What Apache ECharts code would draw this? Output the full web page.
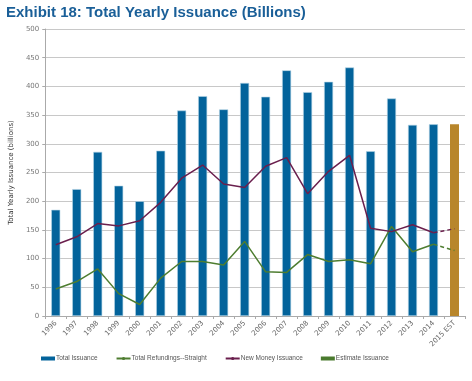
<!DOCTYPE html>
<html><head><meta charset="utf-8">
<script src="https://cdn.jsdelivr.net/npm/echarts@6/dist/echarts.min.js"></script>
<style>html,body{margin:0;padding:0;background:#fff}#c{width:472px;height:381px}</style>
</head><body><div id="c"></div>
<script>
const categories = ['1996','1997','1998','1999','2000','2001','2002','2003','2004','2005','2006','2007','2008','2009','2010','2011','2012','2013','2014','2015 EST'];
const totalIssuance = [185,221,286,227,200,288,358,383,360,406,382,428,390,408,433,287,379,333,334,null];
const estimateIssuance = [null,null,null,null,null,null,null,null,null,null,null,null,null,null,null,null,null,null,null,334];
const refundings = [47,60,82,39,20,66,95,95,89,130,77,76,107,95,98,91,156,112,125,null];
const refundingsEst = [null,null,null,null,null,null,null,null,null,null,null,null,null,null,null,null,null,null,125,114];
const newMoney = [124,138,161,157,166,198,240,263,230,224,261,276,213,252,280,153,147,159,145,null];
const newMoneyEst = [null,null,null,null,null,null,null,null,null,null,null,null,null,null,null,null,null,null,145,152];
const yTicks = {min:0, max:500, interval:50};

const BLUE='#03639b', GOLD='#b8862b', GREEN='#4e7d30', PURPLE='#6a1f4d';
const chart = echarts.init(document.getElementById('c'));
chart.setOption({
  animation:false,
  title:{text:'Exhibit 18: Total Yearly Issuance (Billions)', left:1, top:0,
    textStyle:{fontFamily:'Liberation Sans, Arial, sans-serif', fontWeight:'bold', fontSize:15, color:'#1a5f98'}},
  grid:{left:36, right:7, top:29, bottom:65},
  legend:{left:36, top:350, itemGap:18, itemWidth:14, itemHeight:4,
    itemStyle:{borderWidth:0},
    textStyle:{fontSize:6.5, color:'#555', fontFamily:'Liberation Sans, Arial, sans-serif', padding:[0,0,0,-4]},
    data:[
      {name:'Total Issuance', icon:'rect'},
      {name:'Total Refundings--Straight'},
      {name:'New Money Issuance'},
      {name:'Estimate Issuance', icon:'rect', itemStyle:{color:'#4a7a2e'}}
    ]},
  xAxis:{type:'category', data:categories, boundaryGap:true,
    axisLine:{lineStyle:{color:'#aaa'}},
    axisTick:{show:true, length:3, lineStyle:{color:'#aaa'}},
    axisLabel:{rotate:45, fontSize:7, color:'#666', margin:6, interval:0, fontFamily:'DejaVu Sans, sans-serif'}},
  yAxis:{type:'value', min:yTicks.min, max:yTicks.max, interval:yTicks.interval,
    name:'Total Yearly Issuance (billions)', nameLocation:'middle', nameGap:23,
    nameTextStyle:{fontSize:7, color:'#333', fontFamily:'DejaVu Sans, sans-serif'},
    axisLine:{show:true, lineStyle:{color:'#aaa'}},
    axisTick:{show:true, length:3, lineStyle:{color:'#aaa'}},
    axisLabel:{fontSize:7, color:'#777', margin:6, fontFamily:'DejaVu Sans, sans-serif'},
    splitLine:{lineStyle:{color:'#c8c8c8', width:1}}},
  series:[
    {name:'Total Issuance', type:'bar', stack:'t', data:totalIssuance, barWidth:9,
      itemStyle:{color:BLUE, borderColor:'#b5d5e6', borderWidth:0.6}},
    {name:'Estimate Issuance', type:'bar', stack:'t', data:estimateIssuance, barWidth:9,
      itemStyle:{color:GOLD}},
    {name:'Total Refundings--Straight', type:'line', data:refundings, symbol:'none',
      lineStyle:{color:GREEN, width:1.5}, itemStyle:{color:GREEN}},
    {name:'refEst', type:'line', data:refundingsEst, symbol:'none',
      lineStyle:{color:GREEN, width:1.5, type:[4,3]}, itemStyle:{color:GREEN}},
    {name:'New Money Issuance', type:'line', data:newMoney, symbol:'none',
      lineStyle:{color:PURPLE, width:1.5}, itemStyle:{color:PURPLE}},
    {name:'nmEst', type:'line', data:newMoneyEst, symbol:'none',
      lineStyle:{color:PURPLE, width:1.5, type:[4,3]}, itemStyle:{color:PURPLE}}
  ]
});
</script></body></html>
